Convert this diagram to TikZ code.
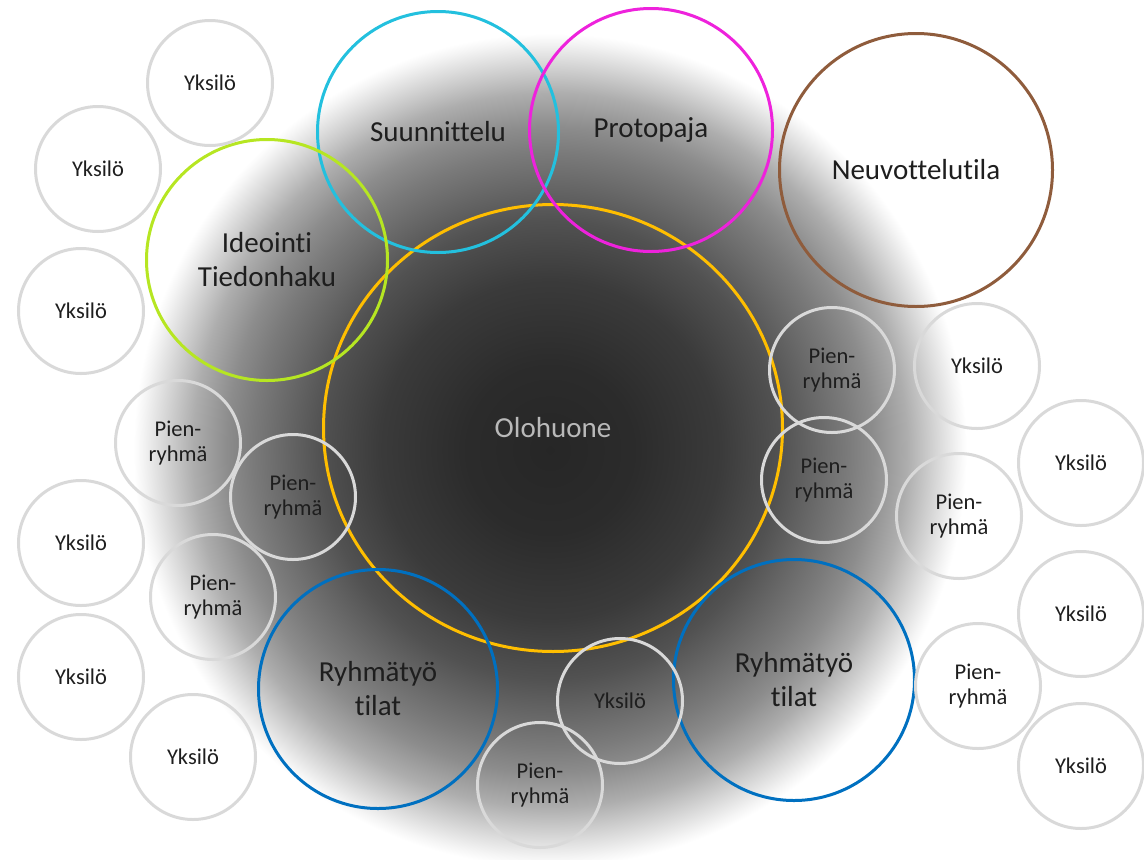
\documentclass[tikz,border=0pt]{standalone}
\usepackage{fontspec}
\setmainfont{Carlito}[Ligatures=NoCommon]
\usetikzlibrary{shapes.geometric}

\definecolor{suunnittelucol}{RGB}{35,192,222}
\definecolor{protopajacol}{RGB}{238,34,220}
\definecolor{neuvottelucol}{RGB}{143,92,60}
\definecolor{ideointicol}{RGB}{182,230,34}
\definecolor{olohuonecol}{RGB}{255,190,0}
\definecolor{ryhmatyocol}{RGB}{0,112,192}
\definecolor{ringgray}{RGB}{217,217,217}
\definecolor{olotext}{RGB}{185,185,185}
\definecolor{textcol}{RGB}{30,30,30}

\definecolor{glowA}{gray}{0.15}
\definecolor{glowB}{gray}{0.17}
\definecolor{glowC}{gray}{0.23}
\definecolor{glowD}{gray}{0.32}
\definecolor{glowE}{gray}{0.40}
\definecolor{glowF}{gray}{0.48}
\definecolor{glowG}{gray}{0.55}
\definecolor{glowH}{gray}{0.68}
\definecolor{glowI}{gray}{0.82}
\definecolor{glowJ}{gray}{0.96}

\pgfdeclareradialshading{olohuoneglow}{\pgfpoint{0bp}{0bp}}{%
	color(0bp)=(glowA); color(5bp)=(glowB); color(10bp)=(glowC); color(13.5bp)=(glowD);
	color(15.5bp)=(glowE); color(17.5bp)=(glowF); color(19bp)=(glowG); color(21bp)=(glowH);
	color(22.5bp)=(glowI); color(24bp)=(glowJ); color(24.5bp)=(white); color(50bp)=(white)}

\begin{document}
\begin{tikzpicture}[
	x=1pt, y=-1pt,
	tila/.style = {circle, draw, line width=3pt, inner sep=0pt, align=center, text=textcol,
		       font=\fontsize{29}{34}\selectfont},
	pieni/.style = {circle, draw=ringgray, line width=3pt, minimum size=125pt, inner sep=0pt,
			align=center, text=textcol, font=\fontsize{22.5}{25}\selectfont},
]
	\useasboundingbox (0,0) rectangle (1144,860);
	\shade [shading=olohuoneglow] (550,450) circle [radius=425];

	\node [tila, draw=olohuonecol, ellipse, minimum width=459pt, minimum height=447pt, text=olotext]
		(olohuone) at (553,428) {Olohuone};
	\node [tila, draw=suunnittelucol, minimum size=241pt] (suunnittelu) at (438,132) {Suunnittelu};
	\node [tila, draw=protopajacol, minimum size=243pt] (protopaja) at (651,130) {Protopaja};
	\node [tila, draw=neuvottelucol, minimum size=273pt] (neuvottelutila) at (916,170) {Neuvottelutila};
	\node [tila, draw=ideointicol, minimum size=241pt] (ideointi) at (267,260) {Ideointi\\Tiedonhaku};
	\node [tila, draw=ryhmatyocol, minimum size=239pt] (ryhmatyoL) at (378,689) {Ryhmätyö\\tilat};
	\node [tila, draw=ryhmatyocol, minimum size=241pt] (ryhmatyoR) at (794,680) {Ryhmätyö\\tilat};

	\foreach \x/\y [count=\i] in {210/83, 98/169, 81/311, 977/366, 1081/463, 1081/614,
				      1081/766, 620/701, 81/543, 81/677, 193/757}{%
		\node [pieni] (yksilo\i) at (\x,\y) {Yksilö};
	}
	\foreach \x/\y [count=\i] in {832/370, 824/480, 959/516, 978/686,
				      540/785, 178/443, 293/497, 213/597}{%
		\node [pieni] (pienryhma\i) at (\x,\y) {Pien-\\ryhmä};
	}
\end{tikzpicture}
\end{document}
